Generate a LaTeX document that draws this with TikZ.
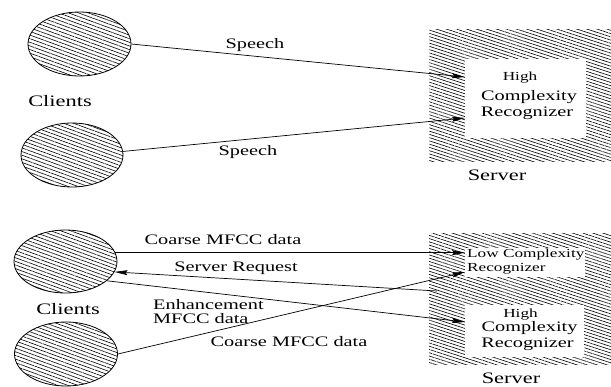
\documentclass[tikz,border=0pt]{standalone}
\usepackage{fontspec}
\setmainfont{Liberation Serif}[FakeStretch=1.4]
\usetikzlibrary{shapes.geometric,patterns.meta,arrows.meta}
\begin{document}
\begin{tikzpicture}[x=1pt,y=-1pt,
  client/.style={ellipse,draw,line width=0.8pt,inner sep=0pt,
    pattern={Lines[angle=-20,distance=3.4pt,line width=0.6pt]}},
  hatch/.style={rectangle,inner sep=0pt,anchor=north west,
    pattern={Lines[angle=-18,distance=3.1pt,line width=0.6pt]}},
  whitebox/.style={rectangle,inner sep=0pt,anchor=north west,fill=white},
  lbl/.style={font=\fontsize{14.5}{17}\selectfont, inner sep=0pt},
  big/.style={font=\fontsize{16}{19}\selectfont, inner sep=0pt},
  small/.style={font=\fontsize{12.3}{14}\selectfont, inner sep=0pt},
  conn/.style={line width=0.7pt},
  arr/.style={conn,-{Stealth[length=13pt,width=5pt,inset=2pt]}},
]
\useasboundingbox (0,0) rectangle (611,386);

% ---------- top half ----------
\node[client,minimum width=103,minimum height=64] (e1) at (79.5,44) {};
\node[client,minimum width=102,minimum height=64] (e2) at (72,155) {};
\node[big] (cl1) at (60,101) {Clients};

\node[hatch,minimum width=182,minimum height=132] (srv1) at (429,29) {};
\node[whitebox,minimum width=121,minimum height=79] (hr1) at (465,59) {};
\node[small] (h1a) at (520,78) {High};
\node[lbl] (h1b) at (529,97) {Complexity};
\node[lbl] (h1c) at (527,113) {Recognizer};
\node[big] (sv1) at (497,175) {Server};

\coordinate (t1) at (hr1.west |- 0,77);
\coordinate (t2) at (hr1.west |- 0,118);
\draw[arr] (e1.east) -- (t1);
\draw[arr] (e2.4) -- (t2);
\node[lbl] (sp1) at (255,45) {Speech};
\node[lbl] (sp2) at (248,152) {Speech};

% ---------- bottom half ----------
\node[client,minimum width=103,minimum height=63] (e3) at (65.5,261.5) {};
\node[client,minimum width=103,minimum height=64] (e4) at (66,354) {};
\node[big] (cl2) at (68,309) {Clients};

\node[hatch,minimum width=182,minimum height=131] (srv2) at (429,233) {};
\node[whitebox,minimum width=120,minimum height=29] (lc) at (465,247.5) {};
\node[small,anchor=west] (l1a) at (467,255) {Low Complexity};
\node[small,anchor=west] (l1b) at (467,269) {Recognizer};
\node[whitebox,minimum width=119,minimum height=52] (hr2) at (465,305) {};
\node[small] (h2a) at (520.5,315) {High};
\node[lbl] (h2b) at (529.5,328) {Complexity};
\node[lbl] (h2c) at (527.5,344) {Recognizer};
\node[big] (sv2) at (511,378) {Server};

\coordinate (sr) at (437,291);
\coordinate (t3) at (lc.west |- 0,272);
\coordinate (t4) at (hr2.west |- 0,322);
\draw[arr] (e3.10) -- (e3.10 -| lc.west);
\draw[arr] (sr) -- (e3.-12);
\draw[arr] (e3.-25) -- (t4);
\draw[arr] (e4.east) -- (t3);

\node[lbl] (c1) at (223,240) {Coarse MFCC data};
\node[lbl] (rq) at (236,268) {Server Request};
\node[lbl,anchor=west,align=left] (en) at (153,311.5) {Enhancement\\[-3.5pt]MFCC data};
\node[lbl] (c2) at (289,342) {Coarse MFCC data};
\end{tikzpicture}
\end{document}
